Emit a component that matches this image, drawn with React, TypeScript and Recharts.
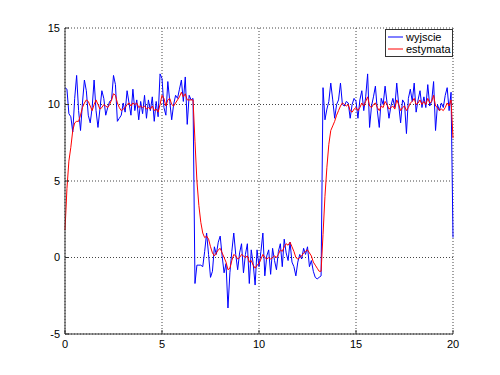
import React from "react";
import { LineChart, Line, XAxis, YAxis, CartesianGrid } from "recharts";

// sampled every 0.1 s, from 0 to 20
const wyjscie = [
  11.1, 11.0, 9.4, 9.2, 8.2, 10.4, 11.9, 9.6, 8.3, 10.1,
  11.6, 10.9, 9.3, 8.8, 9.8, 11.6, 9.6, 8.5, 9.7, 10.9,
  10.4, 9.3, 9.8, 10.2, 10.3, 11.9, 11.3, 8.9, 9.1, 9.3,
  10.1, 9.5, 10.9, 10.1, 9.3, 11.0, 9.6, 10.3, 9.0, 10.2,
  9.4, 10.6, 9.1, 10.3, 9.6, 10.5, 8.9, 10.2, 9.2, 12.0,
  11.7, 9.8, 9.3, 11.5, 10.2, 9.0, 10.0, 10.6, 10.4, 11.0,
  11.6, 10.2, 11.8, 8.7, 10.6, 10.3, 10.4, -1.7, -0.5, -0.5,
  -0.5, -0.6, 0.4, 1.6, 0.2, -1.3, -0.9, 0.7, 0.2, 1.0,
  1.4, 0.1, -1.0, -0.4, -3.3, -1.0, 0.4, 1.6, 0.2, -0.8,
  0.3, 0.9, -1.0, 0.2, 0.9, -1.7, 0.5, -0.4, -1.8, 0.5,
  -0.6, 0.4, 1.6, -1.2, 0.1, 0.5, -1.1, 0.6, -0.2, -0.8,
  0.4, 0.9, -0.6, 1.2, 0.3, -0.2, 1.0, -0.3, -0.6, -1.2,
  -0.3, 0.2, -0.1, 0.6, 0.2, 0.7, -0.6, -0.2, -0.9, -1.3,
  -1.4, -1.3, -1.2, 11.1, 9.0, 9.7, 10.2, 11.4, 10.3, 9.1,
  10.0, 10.3, 11.4, 10.0, 9.9, 10.2, 10.1, 9.1, 10.0, 10.4,
  10.2, 9.1, 10.3, 10.9, 9.6, 10.5, 12.0, 8.5, 9.9, 10.5,
  11.2, 9.6, 8.5, 10.4, 10.0, 11.2, 10.1, 9.1, 9.9, 10.4,
  9.8, 11.4, 10.0, 8.8, 10.3, 10.1, 8.1, 10.4, 11.0, 10.2,
  11.4, 9.5, 10.3, 10.9, 9.8, 10.5, 9.8, 11.3, 9.9, 10.2,
  11.5, 8.3, 10.0, 9.6, 10.1, 9.8, 10.6, 11.1, 9.6, 10.8,
  1.3,
];

const estymata = [
  1.8, 4.5, 6.3, 7.2, 8.3, 8.8, 8.9, 8.9, 9.3, 9.8,
  10.1, 10.3, 10.2, 9.9, 9.6, 10.0, 10.3, 10.0, 9.7, 9.8,
  10.0, 9.9, 9.8, 10.0, 10.3, 10.7, 10.6, 10.1, 9.8, 9.6,
  9.7, 9.8, 10.0, 10.1, 9.9, 10.1, 10.0, 10.1, 9.8, 9.9,
  9.8, 9.9, 9.7, 9.8, 9.7, 9.9, 9.6, 9.7, 9.5, 10.0,
  10.6, 10.4, 9.9, 10.3, 10.4, 10.0, 9.9, 10.1, 10.3, 10.5,
  10.8, 10.5, 10.7, 10.3, 10.3, 10.3, 10.3, 7.6, 5.0, 3.4,
  2.3, 1.6, 1.3, 1.4, 1.2, 0.7, 0.3, 0.1, 0.3, 0.5,
  0.6, 0.3, 0.0, -0.3, -0.8, -0.7, -0.2, 0.2, 0.1, -0.1,
  0.0, 0.2, 0.1, 0.0, 0.1, -0.3, -0.2, -0.5, -0.7, -0.5,
  -0.4, -0.1, 0.2, 0.0, -0.1, 0.0, -0.1, 0.0, 0.1, 0.0,
  0.2, 0.5, 0.4, 0.7, 0.9, 0.8, 1.0, 0.7, 0.4, 0.0,
  -0.1, 0.0, 0.1, 0.3, 0.4, 0.5, 0.3, 0.1, -0.3, -0.5,
  -0.7, -0.9, -0.9, 1.5, 4.0, 5.9, 7.4, 8.3, 8.6, 8.9,
  9.3, 9.6, 9.9, 10.1, 10.0, 9.9, 10.0, 9.6, 9.5, 9.7,
  9.8, 9.6, 9.8, 10.1, 9.9, 10.2, 10.5, 9.9, 9.8, 10.0,
  10.1, 9.8, 9.6, 9.9, 9.8, 10.2, 10.0, 9.7, 9.8, 9.9,
  9.7, 10.3, 10.0, 9.6, 9.8, 9.9, 9.6, 9.8, 10.1, 10.2,
  10.4, 10.0, 10.1, 10.3, 10.0, 10.2, 10.0, 10.4, 10.1, 10.2,
  10.6, 9.9, 9.8, 9.6, 9.7, 9.6, 9.8, 10.1, 9.9, 10.3,
  7.8,
];

const xTicks = [0, 5, 10, 15, 20];
const yTicks = [-5, 0, 5, 10, 15];
const seriesColors = { wyjscie: "#0000ff", estymata: "#ff0000" };

const data = wyjscie.map((v, i) => ({ t: i / 10, wyjscie: v, estymata: estymata[i] }));

const font = "'Liberation Sans', Arial, sans-serif";
const tickStyle = { fontSize: 11, fill: "#000", fontFamily: font };

// boxed legend like the matlab one, laid over the plot corner
function BoxLegend() {
  return (
    <div
      style={{
        position: "absolute",
        left: 385,
        top: 29,
        width: 66,
        background: "#fff",
        border: "1px solid #333",
        padding: "1px 0",
        fontFamily: font,
        fontSize: 11,
        lineHeight: "12px",
      }}
    >
      {Object.entries(seriesColors).map(([name, color]) => (
        <div key={name} style={{ display: "flex", alignItems: "center" }}>
          <svg width={20} height={12}>
            <line x1={2} x2={17} y1={6} y2={6} stroke={color} strokeWidth={1} />
          </svg>
          <span>{name}</span>
        </div>
      ))}
    </div>
  );
}

export default function App() {
  return (
    <div style={{ position: "absolute", left: 0, top: 0, width: 500, height: 375, background: "#fff" }}>
      <LineChart width={500} height={375} data={data} margin={{ top: 28, right: 47, bottom: 21, left: 35 }}>
        <CartesianGrid stroke="#444" strokeDasharray="1 2" />
        <XAxis
          dataKey="t"
          type="number"
          domain={[0, 20]}
          ticks={xTicks}
          height={20}
          tickSize={-4}
          tickMargin={10}
          tick={tickStyle}
          stroke="#333"
        />
        <XAxis xAxisId="top" orientation="top" type="number" domain={[0, 20]} ticks={xTicks} height={0} tickSize={-4} tickFormatter={() => ""} stroke="#333" />
        <YAxis
          type="number"
          domain={[-5, 15]}
          ticks={yTicks}
          width={30}
          tickSize={-4}
          tickMargin={9}
          tick={tickStyle}
          stroke="#333"
        />
        <YAxis yAxisId="right" orientation="right" type="number" domain={[-5, 15]} ticks={yTicks} width={0} tickSize={-4} tickFormatter={() => ""} stroke="#333" />
        <Line dataKey="wyjscie" stroke={seriesColors.wyjscie} strokeWidth={1} dot={false} isAnimationActive={false} />
        <Line dataKey="estymata" stroke={seriesColors.estymata} strokeWidth={1} dot={false} isAnimationActive={false} />
      </LineChart>
      <BoxLegend />
    </div>
  );
}
